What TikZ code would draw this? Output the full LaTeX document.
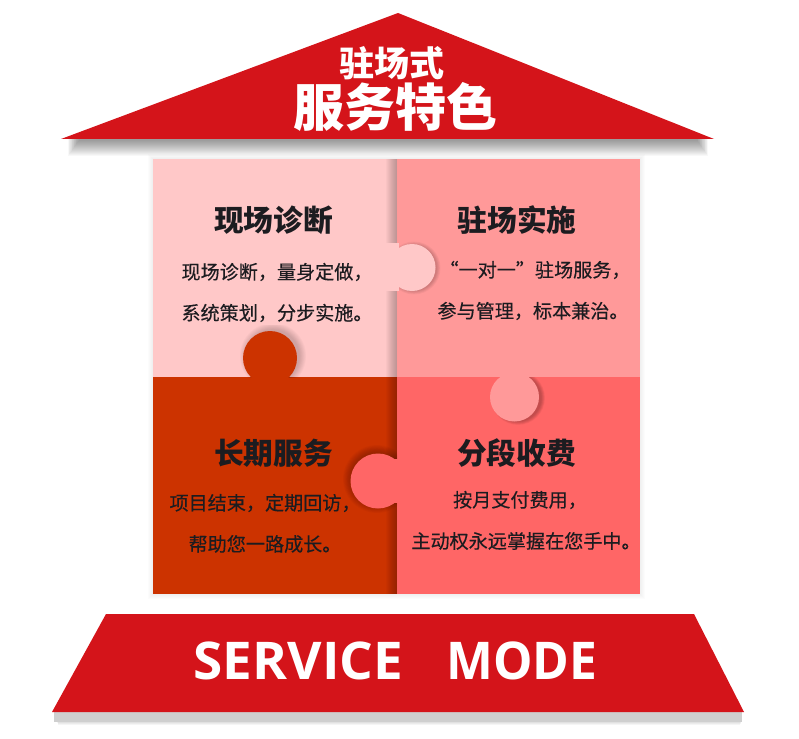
\documentclass[tikz,border=0pt]{standalone}
\usepackage{fontspec}
\setmainfont{Open Sans}
\newfontfamily\cjk{Noto Sans CJK SC}
\newfontfamily\cjkbody{Noto Sans CJK SC}[FakeBold=0.35]
\newfontfamily\latinb{Open Sans}
\definecolor{roofred}{HTML}{D4141A}
\definecolor{tlc}{HTML}{FFC8C8}
\definecolor{trc}{HTML}{FF9999}
\definecolor{blc}{HTML}{CC3300}
\definecolor{brc}{HTML}{FF6666}
\definecolor{inkc}{HTML}{1C1C20}
\tikzset{
  redshape/.style={fill=roofred,draw=none},
  quad/.style={draw=none},
  headtext/.style={font=\cjk\bfseries\fontsize{29.7}{30}\selectfont,text=inkc,inner sep=0pt},
  bodytext/.style={font=\cjkbody\fontsize{19.1}{20}\selectfont,text=inkc,inner sep=0pt},
  modetext/.style={font=\latinb\bfseries\fontsize{52}{52}\selectfont,text=white,inner sep=0pt},
  softlayer/.style={fill=black,fill opacity=#1,draw=none}
}
\begin{document}
\begin{tikzpicture}[x=1pt,y=-1pt]
\useasboundingbox (0,0) rectangle (799,738);
\fill[white] (0,0) rectangle (799,738);
% shadow under the roof
\foreach \i in {0,...,15}{
  \fill[softlayer=0.028] (68+\i*0.7,139) rectangle (708-\i*0.7,156-\i);
}
% faint halo round the puzzle
\foreach \i in {1,...,5}{
  \fill[softlayer=0.012] (153-\i,159-\i) rectangle (640+\i,594+\i);
}
% shadow under the base
\foreach \i in {0,...,3}{
  \fill[softlayer=0.04] (56-\i*0.5+2,712) rectangle (742+\i*0.5-2,725-\i);
}
\fill[black!19,draw=none] (54,712) rectangle (742,722);
% four quadrants
\fill[quad,tlc] (153,159) rectangle (397,377);
\fill[quad,trc] (397,159) rectangle (640,377);
\fill[quad,blc] (153,377) rectangle (397,594);
\fill[quad,brc] (397,377) rectangle (640,594);
% vertical shadow bands on the left of the centre seam
\foreach \i in {0,...,11}{
  \fill[softlayer=0.022] (386+\i,159) rectangle (397,377);
  \fill[softlayer=0.022] (386+\i,377) rectangle (397,594);
}
% tab: top-left piece into top-right piece
\begin{scope}
  \clip (397,235) rectangle (445,300);
  \foreach \i in {0,...,5}{
    \fill[softlayer=0.03] (414,268) circle ({26.5-\i*0.7});
  }
  \fill[tlc] (412,267.5) circle (23.5);
\end{scope}
\fill[tlc] (384,243) rectangle (399,291);
% tab: bottom-left piece into top-left piece
\begin{scope}
  \clip (235,325) rectangle (310,377);
  \foreach \i in {0,...,7}{
    \fill[softlayer=0.022] (273,356) circle ({33-\i*0.9});
  }
\end{scope}
\fill[blc] (270,358) circle (27);
% tab: top-right piece into bottom-right piece
\begin{scope}
  \clip (485,377) rectangle (550,430);
  \foreach \i in {0,...,7}{
    \fill[softlayer=0.03] (518,398) circle ({27-\i*0.5});
  }
  \fill[trc] (514.5,397) circle (24.5);
\end{scope}
% tab: bottom-right piece into bottom-left piece
\begin{scope}
  \clip (335,440) rectangle (397,525);
  \foreach \i in {0,...,9}{
    \fill[softlayer=0.024] (377,479) circle ({34-\i*0.8});
  }
\end{scope}
\fill[brc] (378,481) circle (27.5);
\fill[brc] (385,459) rectangle (398,503);
% roof and base
\fill[redshape] (398,13) -- (714,139) -- (61,139) -- cycle;
\fill[redshape] (106,614) -- (694,614) -- (744,712) -- (52,712) -- cycle;
% texts
\node[font=\cjk\bfseries\fontsize{35}{35}\selectfont,text=white,inner sep=0pt] (roofa) at (392,63) {驻场式};
\node[font=\cjk\bfseries\fontsize{51}{51}\selectfont,text=white,inner sep=0pt] (roofb) at (395,107) {服务特色};
\node[headtext] (ha) at (273.5,220) {现场诊断};
\node[headtext] (hb) at (517,220) {驻场实施};
\node[headtext] (hc) at (273.5,453) {长期服务};
\node[headtext] (hd) at (516.5,453) {分段收费};
\node[bodytext] (a1) at (277,272) {现场诊断，量身定做，};
\node[bodytext] (a2) at (277,313) {系统策划，分步实施。};
\node[bodytext] (b1) at (535,270) {“一对一”驻场服务，};
\node[bodytext] (b2) at (533,311) {参与管理，标本兼治。};
\node[bodytext] (c1) at (265,503) {项目结束，定期回访，};
\node[bodytext] (c2) at (265,544) {帮助您一路成长。};
\node[bodytext] (d1) at (520,500) {按月支付费用，};
\node[bodytext] (d2) at (526,541) {主动权永远掌握在您手中。};
\node[modetext,xscale=1.02] (modea) at (298.5,661) {SERVICE};
\node[modetext,xscale=0.955] (modeb) at (522,661) {MODE};
\end{tikzpicture}
\end{document}
